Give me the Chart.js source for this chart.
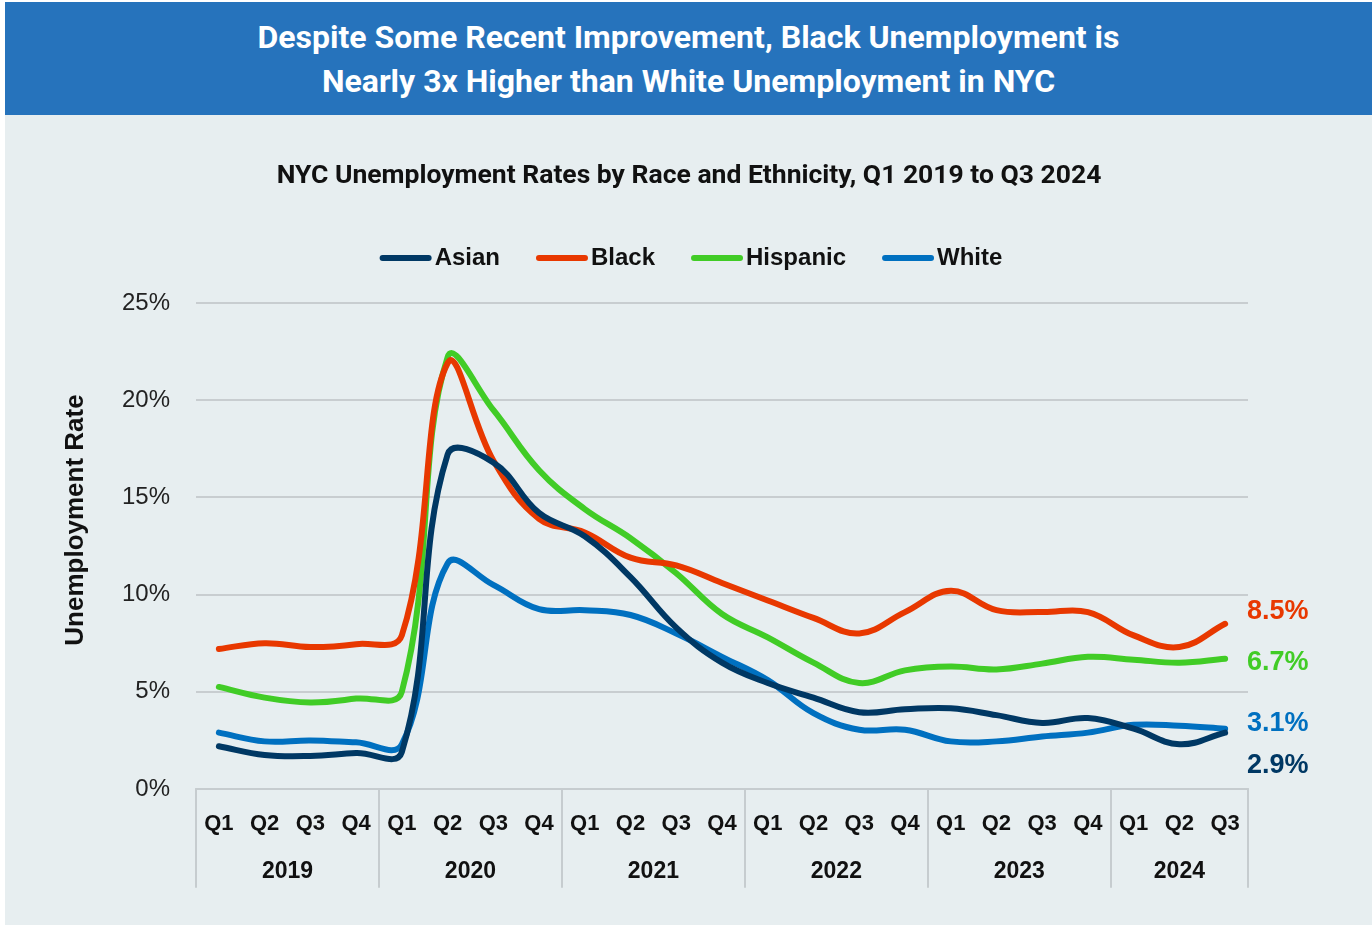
<!DOCTYPE html>
<html>
<head>
<meta charset="utf-8">
<script src="https://cdn.jsdelivr.net/npm/chart.js@4.4.1/dist/chart.umd.min.js"></script>
<style>
  html, body { margin: 0; padding: 0; background: #ffffff; }
  body { width: 1372px; height: 925px; position: relative; overflow: hidden; }
  #panel { position: absolute; left: 5px; top: 115px; width: 1367px; height: 810px; background: #e7eef0; }
  #header { position: absolute; left: 5px; top: 2px; width: 1367px; height: 113px; background: #2673bc;
            color: #ffffff; font-family: Roboto, "Liberation Sans", sans-serif; font-weight: 700; font-size: 32px;
            text-align: center; line-height: 44px; box-sizing: border-box; padding-top: 13px; }
  #wrap { position: absolute; left: 0; top: 0; width: 1372px; height: 925px; }
</style>
</head>
<body>
<div id="panel"></div>
<div id="header"><div>Despite Some Recent Improvement, Black Unemployment is</div><div>Nearly 3x Higher than White Unemployment in NYC</div></div>
<div id="wrap"><canvas id="c" width="1372" height="925"></canvas></div>
<script>
// ---- Data ----
const quarters = ["Q1","Q2","Q3","Q4","Q1","Q2","Q3","Q4","Q1","Q2","Q3","Q4","Q1","Q2","Q3","Q4","Q1","Q2","Q3","Q4","Q1","Q2","Q3"];
const years = ["2019","2020","2021","2022","2023","2024"];
const quartersPerYear = [4,4,4,4,4,3];
const seriesNames = ["Asian","Black","Hispanic","White"];
const asian    = [2.2,1.75,1.7,1.85,1.9,17.2,16.8,14.2,13.0,10.9,8.3,6.5,5.45,4.7,3.95,4.1,4.15,3.8,3.4,3.65,3.1,2.3,2.9];
const black    = [7.2,7.5,7.3,7.45,7.9,21.9,16.9,13.9,13.2,11.9,11.5,10.6,9.7,8.8,8.0,9.1,10.2,9.2,9.1,9.1,7.9,7.3,8.5];
const hispanic = [5.25,4.7,4.45,4.65,5.0,22.2,19.5,16.4,14.4,12.9,11.1,9.0,7.8,6.5,5.45,6.1,6.3,6.15,6.45,6.8,6.65,6.5,6.7];
const white    = [2.9,2.45,2.5,2.4,2.3,11.6,10.5,9.25,9.2,8.95,8.0,6.8,5.6,3.9,3.05,3.05,2.45,2.45,2.7,2.9,3.3,3.25,3.1];
const endLabels = ["2.9%","8.5%","6.7%","3.1%"];
const yTicks = [0,5,10,15,20,25];

const colors = ["#003864","#e83800","#41cc26","#0070c0"];
const endLabelOffsets = [33,-12,4,-5];

const chartTitle = "NYC Unemployment Rates by Race and Ethnicity, Q1 2019 to Q3 2024";
const yTitle = "Unemployment Rate";

const SANS = '"Liberation Sans", Arial, sans-serif';

const decor = {
  id: 'decor',
  afterDraw(chart) {
    const ctx = chart.ctx;
    const ca = chart.chartArea;
    const xs = chart.scales.x;
    ctx.save();
    // Title
    ctx.fillStyle = '#111';
    ctx.font = '700 26.5px Roboto, sans-serif';
    ctx.textAlign = 'center';
    ctx.textBaseline = 'middle';
    ctx.fillText(chartTitle, 689, 176);

    // Legend
    ctx.font = '700 24px ' + SANS;
    const lineW = 52, gapTxt = 3, gapItem = 36;
    let total = 0;
    const widths = seriesNames.map(n => ctx.measureText(n).width);
    widths.forEach((w, i) => { total += lineW + gapTxt + w + (i < widths.length - 1 ? gapItem : 0); });
    let lx = 691 - total / 2;
    const ly = 258;
    seriesNames.forEach((n, i) => {
      ctx.strokeStyle = colors[i];
      ctx.lineWidth = 6;
      ctx.lineCap = 'round';
      ctx.beginPath();
      ctx.moveTo(lx + 3, ly);
      ctx.lineTo(lx + lineW - 3, ly);
      ctx.stroke();
      ctx.fillStyle = '#111';
      ctx.textAlign = 'left';
      ctx.fillText(n, lx + lineW + gapTxt, ly);
      lx += lineW + gapTxt + widths[i] + gapItem;
    });

    // Y axis title
    ctx.save();
    ctx.translate(76, (ca.top + ca.bottom) / 2 - 26);
    ctx.rotate(-Math.PI / 2);
    ctx.font = '700 26px ' + SANS;
    ctx.fillStyle = '#111';
    ctx.textAlign = 'center';
    ctx.textBaseline = 'middle';
    ctx.fillText(yTitle, 0, 0);
    ctx.restore();

    // Year group labels and separators
    const half = (xs.getPixelForValue(1) - xs.getPixelForValue(0)) / 2;
    const sepBottom = 887;
    ctx.strokeStyle = '#c6cccf';
    ctx.lineWidth = 2;
    ctx.font = '700 23px ' + SANS;
    ctx.fillStyle = '#111';
    ctx.textAlign = 'center';
    let idx = 0;
    const edges = [];
    years.forEach((y, i) => {
      const first = idx, last = idx + quartersPerYear[i] - 1;
      const left = xs.getPixelForValue(first) - half;
      const right = xs.getPixelForValue(last) + half;
      edges.push(left);
      if (i === years.length - 1) edges.push(right);
      ctx.fillText(y, (left + right) / 2, 872);
      idx = last + 1;
    });
    edges.forEach(e => {
      ctx.beginPath();
      ctx.moveTo(Math.round(e), ca.bottom);
      ctx.lineTo(Math.round(e), sepBottom);
      ctx.stroke();
    });
    ctx.beginPath();
    ctx.moveTo(ca.left, ca.bottom);
    ctx.lineTo(ca.right, ca.bottom);
    ctx.stroke();

    // End labels
    ctx.font = '700 27px ' + SANS;
    ctx.textAlign = 'left';
    chart.data.datasets.forEach((ds, i) => {
      const v = ds.data[ds.data.length - 1];
      const py = chart.scales.y.getPixelForValue(v) + endLabelOffsets[i];
      ctx.fillStyle = colors[i];
      ctx.fillText(endLabels[i], 1247, py);
    });
    ctx.restore();
  }
};

const dataArrays = [asian, black, hispanic, white];
new Chart(document.getElementById('c'), {
  type: 'line',
  data: {
    labels: quarters,
    datasets: seriesNames.map((n, i) => ({
      label: n,
      data: dataArrays[i],
      borderColor: colors[i],
      backgroundColor: colors[i],
      borderWidth: 6,
      pointRadius: 0,
      tension: 0.4,
      borderCapStyle: 'round',
      borderJoinStyle: 'round'
    }))
  },
  options: {
    responsive: false,
    animation: false,
    layout: { padding: { left: 0, right: 124, top: 303, bottom: 38 } },
    plugins: { legend: { display: false }, title: { display: false }, tooltip: { enabled: false } },
    scales: {
      x: {
        offset: true,
        grid: { display: false, drawTicks: false },
        border: { display: false },
        ticks: { color: '#111', font: { family: SANS, weight: '700', size: 22 }, padding: 22, maxRotation: 0, autoSkip: false },
        afterFit: s => { s.height = 98; }
      },
      y: {
        min: 0, max: 25,
        afterBuildTicks: s => { s.ticks = yTicks.map(v => ({ value: v })); },
        grid: { color: '#c8cdd0', lineWidth: 2, drawTicks: false },
        border: { display: false },
        ticks: { color: '#222', font: { family: SANS, size: 24 }, padding: 26, callback: v => v + '%' },
        afterFit: s => { s.width = 196; }
      }
    }
  },
  plugins: [decor]
});
</script>
</body>
</html>
